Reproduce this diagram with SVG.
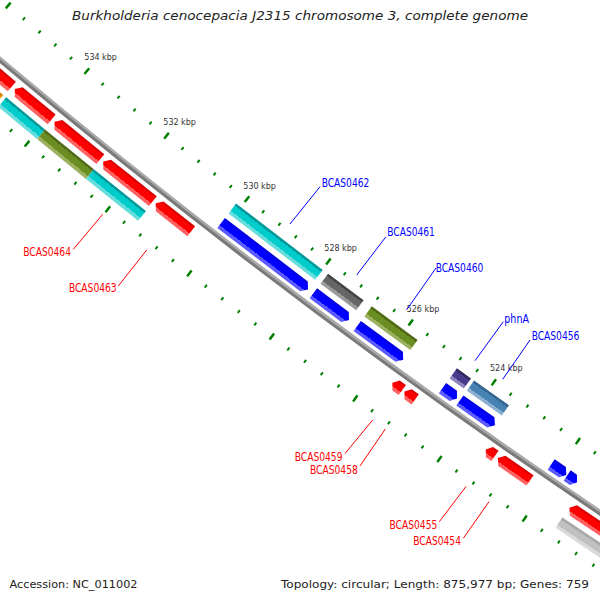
<svg xmlns="http://www.w3.org/2000/svg" width="600" height="600" viewBox="0 0 600 600">
<defs>
<linearGradient id="gRed"><stop offset="0" stop-color="#dd0000"/><stop offset="0.18" stop-color="#dd0000"/><stop offset="0.18" stop-color="#ff0000"/><stop offset="0.72" stop-color="#ff0000"/><stop offset="0.72" stop-color="#ff6060"/><stop offset="1" stop-color="#ff6060"/></linearGradient>
<linearGradient id="gBlue"><stop offset="0" stop-color="#0000e0"/><stop offset="0.18" stop-color="#0000e0"/><stop offset="0.18" stop-color="#0000ff"/><stop offset="0.72" stop-color="#0000ff"/><stop offset="0.72" stop-color="#5a5aff"/><stop offset="1" stop-color="#5a5aff"/></linearGradient>
<linearGradient id="gCyan"><stop offset="0" stop-color="#009999"/><stop offset="0.2" stop-color="#009999"/><stop offset="0.2" stop-color="#00cccc"/><stop offset="0.72" stop-color="#00cccc"/><stop offset="0.72" stop-color="#66dddd"/><stop offset="1" stop-color="#66dddd"/></linearGradient>
<linearGradient id="gGray"><stop offset="0" stop-color="#444444"/><stop offset="0.2" stop-color="#444444"/><stop offset="0.2" stop-color="#666666"/><stop offset="0.72" stop-color="#666666"/><stop offset="0.72" stop-color="#999999"/><stop offset="1" stop-color="#999999"/></linearGradient>
<linearGradient id="gOlive"><stop offset="0" stop-color="#4f6b17"/><stop offset="0.2" stop-color="#4f6b17"/><stop offset="0.2" stop-color="#6b8e23"/><stop offset="0.72" stop-color="#6b8e23"/><stop offset="0.72" stop-color="#9cb060"/><stop offset="1" stop-color="#9cb060"/></linearGradient>
<linearGradient id="gPurple"><stop offset="0" stop-color="#2f2760"/><stop offset="0.2" stop-color="#2f2760"/><stop offset="0.2" stop-color="#483d8b"/><stop offset="0.72" stop-color="#483d8b"/><stop offset="0.72" stop-color="#8a82b8"/><stop offset="1" stop-color="#8a82b8"/></linearGradient>
<linearGradient id="gSteel"><stop offset="0" stop-color="#356590"/><stop offset="0.2" stop-color="#356590"/><stop offset="0.2" stop-color="#4682b4"/><stop offset="0.72" stop-color="#4682b4"/><stop offset="0.72" stop-color="#8bb0d2"/><stop offset="1" stop-color="#8bb0d2"/></linearGradient>
<linearGradient id="gOrange"><stop offset="0" stop-color="#d98200"/><stop offset="0.2" stop-color="#d98200"/><stop offset="0.2" stop-color="#ff9900"/><stop offset="0.72" stop-color="#ff9900"/><stop offset="0.72" stop-color="#ffbb55"/><stop offset="1" stop-color="#ffbb55"/></linearGradient>
<linearGradient id="gLgray"><stop offset="0" stop-color="#a8a8a8"/><stop offset="0.2" stop-color="#a8a8a8"/><stop offset="0.2" stop-color="#c0c0c0"/><stop offset="0.72" stop-color="#c0c0c0"/><stop offset="0.72" stop-color="#dadada"/><stop offset="1" stop-color="#dadada"/></linearGradient>
</defs>
<style>
.minor{fill:none;stroke:#008000;stroke-width:3.5}
.major{fill:none;stroke:#008000;stroke-width:7.5}
.tl{font-family:"DejaVu Sans",sans-serif;font-size:8px;fill:#333333}
.lab{font-family:"Liberation Sans Narrow","DejaVu Sans Condensed","Liberation Sans",sans-serif;font-size:12px}
.fwd{fill:#ff0000}
.rev{fill:#0000ff}
.lf{stroke:#ff0000;stroke-width:1}
.lr{stroke:#0000ff;stroke-width:1}
.info{font-family:"DejaVu Sans",sans-serif;font-size:11.3px;fill:#222222}
</style>
<rect width="600" height="600" fill="#ffffff"/>
<g id="map" transform="translate(4627.2 -5445.1)">
  <g id="ruler">
    <path class="minor" transform="rotate(122.8823)" d="M7144.5,0A7144.5,7144.5 0 0 1 0,7144.5" stroke-dasharray="2 18.498354" stroke-dashoffset="1"/>
    <path class="major" transform="rotate(122.8823)" d="M7144.5,0A7144.5,7144.5 0 0 1 0,7144.5" stroke-dasharray="2.4 100.091768" stroke-dashoffset="1.2"/>
    <path class="minor" transform="rotate(122.8823)" d="M7238.5,0A7238.5,7238.5 0 0 1 0,7238.5" stroke-dasharray="2 18.768051" stroke-dashoffset="1"/>
    <path class="major" transform="rotate(122.8823)" d="M7238.5,0A7238.5,7238.5 0 0 1 0,7238.5" stroke-dasharray="2.4 101.440255" stroke-dashoffset="1.2"/>
  </g>
  <g id="backbone">
    <circle r="7189.5" fill="none" stroke="#a8a8a8" stroke-width="2.2"/>
    <circle r="7192.25" fill="none" stroke="#7a7a7a" stroke-width="3.3"/>
  </g>
  <!-- reverse strand (inner) -->
  <g id="BCAS0462">
    <path fill="url(#gBlue)" transform="rotate(127.4235) translate(7172.7 0)" d="M0,54.69H12.5V-49.69L6.25,-54.69L0,-49.69Z"/>
    <rect fill="url(#gCyan)" transform="rotate(127.4235) translate(7154.5 0)" x="0" y="-54.56" width="12.5" height="109.12"/>
  </g>
  <g id="BCAS0461">
    <path fill="url(#gBlue)" transform="rotate(126.7565) translate(7172.7 0)" d="M0,22.24H12.5V-17.24L6.25,-22.24L0,-17.24Z"/>
    <rect fill="url(#gGray)" transform="rotate(126.7565) translate(7154.5 0)" x="0" y="-22.18" width="12.5" height="44.36"/>
  </g>
  <g id="BCAS0460">
    <path fill="url(#gBlue)" transform="rotate(126.2695) translate(7172.7 0)" d="M0,28.51H12.5V-23.51L6.25,-28.51L0,-23.51Z"/>
    <rect fill="url(#gOlive)" transform="rotate(126.2695) translate(7154.5 0)" x="0" y="-28.43" width="12.5" height="56.86"/>
  </g>
  <g id="phnA">
    <path fill="url(#gBlue)" transform="rotate(125.5845) translate(7172.7 0)" d="M0,8.9H12.5V-4.4L6.25,-8.9L0,-4.4Z"/>
    <rect fill="url(#gPurple)" transform="rotate(125.5845) translate(7154.5 0)" x="0" y="-8.69" width="12.5" height="17.38"/>
  </g>
  <g id="BCAS0456">
    <path fill="url(#gBlue)" transform="rotate(125.3135) translate(7172.7 0)" d="M0,21.49H12.5V-16.49L6.25,-21.49L0,-16.49Z"/>
    <rect fill="url(#gSteel)" transform="rotate(125.3135) translate(7154.5 0)" x="0" y="-21.43" width="12.5" height="42.86"/>
  </g>
  <g id="rev6">
    <path fill="url(#gBlue)" transform="rotate(124.522) translate(7172.7 0)" d="M0,9.2H12.5V-4.4L6.25,-9.2L0,-4.4Z"/>
  </g>
  <g id="rev7">
    <path fill="url(#gBlue)" transform="rotate(124.3925) translate(7172.7 0)" d="M0,6H12.5V-1.6L6.25,-6L0,-1.6Z"/>
  </g>
  <!-- forward strand (outer) -->
  <g id="fwdA">
    <path fill="url(#gRed)" transform="rotate(130.22) translate(7197.8 0)" d="M0,-47.78H12.5V42.78L6.25,47.78L0,42.78Z"/>
    <rect fill="url(#gOrange)" transform="rotate(130.225) translate(7216 0)" x="0" y="-47.27" width="12.5" height="94.54"/>
  </g>
  <g id="fwdB">
    <path fill="url(#gRed)" transform="rotate(129.62) translate(7197.8 0)" d="M0,-23.89H12.5V18.89L6.25,23.89L0,18.89Z"/>
    <rect fill="url(#gCyan)" transform="rotate(129.62) translate(7216 0)" x="0" y="-25.21" width="12.5" height="50.42"/>
  </g>
  <g id="fwdC">
    <path fill="url(#gRed)" transform="rotate(129.165) translate(7197.8 0)" d="M0,-29.55H12.5V24.55L6.25,29.55L0,24.55Z"/>
    <rect fill="url(#gOlive)" transform="rotate(129.17) translate(7216 0)" x="0" y="-31.51" width="12.5" height="63.02"/>
  </g>
  <g id="BCAS0464">
    <path fill="url(#gRed)" transform="rotate(128.6475) translate(7197.8 0)" d="M0,-31.75H12.5V26.75L6.25,31.75L0,26.75Z"/>
    <rect fill="url(#gCyan)" transform="rotate(128.655) translate(7216 0)" x="0" y="-33.4" width="12.5" height="66.8"/>
  </g>
  <g id="BCAS0463">
    <path fill="url(#gRed)" transform="rotate(128.1865) translate(7197.8 0)" d="M0,-22.57H12.5V17.57L6.25,22.57L0,17.57Z"/>
  </g>
  <g id="BCAS0459">
    <path fill="url(#gRed)" transform="rotate(125.955) translate(7197.8 0)" d="M0,-6.1H12.5V1.6L6.25,6.1L0,1.6Z"/>
  </g>
  <g id="BCAS0458">
    <path fill="url(#gRed)" transform="rotate(125.8325) translate(7197.8 0)" d="M0,-6.6H12.5V2.1L6.25,6.6L0,2.1Z"/>
  </g>
  <g id="BCAS0455">
    <path fill="url(#gRed)" transform="rotate(125.0465) translate(7197.8 0)" d="M0,-5.6H12.5V1.1L6.25,5.6L0,1.1Z"/>
  </g>
  <g id="BCAS0454">
    <path fill="url(#gRed)" transform="rotate(124.818) translate(7197.8 0)" d="M0,-19.61H12.5V14.61L6.25,19.61L0,14.61Z"/>
  </g>
  <g id="fwd5">
    <path fill="url(#gRed)" transform="rotate(123.7905) translate(7197.8 0)" d="M0,-61.67H12.5V56.67L6.25,61.67L0,56.67Z"/>
    <rect fill="url(#gLgray)" transform="rotate(123.7915) translate(7216 0)" x="0" y="-61.95" width="12.5" height="123.9"/>
  </g>
</g>
<g id="tick-labels" class="tl">
  <text x="84.3" y="60">534 kbp</text>
  <text x="163.3" y="125">532 kbp</text>
  <text x="243.3" y="189.3">530 kbp</text>
  <text x="324.3" y="251">528 kbp</text>
  <text x="406.7" y="312">526 kbp</text>
  <text x="490" y="370.7">524 kbp</text>
</g>
<g id="connectors">
  <line class="lr" x1="290" y1="224" x2="320" y2="186.7"/>
  <line class="lr" x1="356.7" y1="275" x2="386" y2="236.7"/>
  <line class="lr" x1="406.5" y1="310" x2="436" y2="268"/>
  <line class="lr" x1="475" y1="360.7" x2="503.3" y2="321.7"/>
  <line class="lr" x1="502.7" y1="379.3" x2="530" y2="340"/>
  <line class="lf" x1="102.7" y1="214.3" x2="73.3" y2="249.3"/>
  <line class="lf" x1="146.7" y1="250" x2="118.3" y2="286"/>
  <line class="lf" x1="372.7" y1="420" x2="345" y2="453.5"/>
  <line class="lf" x1="385.3" y1="429" x2="360" y2="466"/>
  <line class="lf" x1="466" y1="486.5" x2="439.3" y2="521.7"/>
  <line class="lf" x1="489" y1="501.7" x2="463.3" y2="538.3"/>
</g>
<g id="labels" class="lab">
  <text class="rev" x="321.7" y="186.7" textLength="47.6" lengthAdjust="spacingAndGlyphs">BCAS0462</text>
  <text class="rev" x="387.3" y="236" textLength="47.6" lengthAdjust="spacingAndGlyphs">BCAS0461</text>
  <text class="rev" x="435.7" y="272" textLength="47.6" lengthAdjust="spacingAndGlyphs">BCAS0460</text>
  <text class="rev" x="504.3" y="322.7" textLength="24.7" lengthAdjust="spacingAndGlyphs">phnA</text>
  <text class="rev" x="531.7" y="340" textLength="47.6" lengthAdjust="spacingAndGlyphs">BCAS0456</text>
  <text class="fwd" x="71" y="256" text-anchor="end" textLength="47.8" lengthAdjust="spacingAndGlyphs">BCAS0464</text>
  <text class="fwd" x="116.7" y="291.7" text-anchor="end" textLength="47.8" lengthAdjust="spacingAndGlyphs">BCAS0463</text>
  <text class="fwd" x="342.5" y="460.5" text-anchor="end" textLength="47.8" lengthAdjust="spacingAndGlyphs">BCAS0459</text>
  <text class="fwd" x="357.8" y="473.5" text-anchor="end" textLength="47.8" lengthAdjust="spacingAndGlyphs">BCAS0458</text>
  <text class="fwd" x="437.3" y="529.3" text-anchor="end" textLength="47.8" lengthAdjust="spacingAndGlyphs">BCAS0455</text>
  <text class="fwd" x="461" y="545" text-anchor="end" textLength="47.8" lengthAdjust="spacingAndGlyphs">BCAS0454</text>
</g>
<text id="title" x="300" y="20" text-anchor="middle" font-family="DejaVu Sans, sans-serif" font-style="italic" font-size="13" fill="#222222" textLength="456" lengthAdjust="spacingAndGlyphs">Burkholderia cenocepacia J2315 chromosome 3, complete genome</text>
<text class="info" x="9.5" y="588" textLength="128" lengthAdjust="spacingAndGlyphs">Accession: NC_011002</text>
<text class="info" x="589" y="588" text-anchor="end" textLength="308" lengthAdjust="spacingAndGlyphs">Topology: circular; Length: 875,977 bp; Genes: 759</text>
</svg>
